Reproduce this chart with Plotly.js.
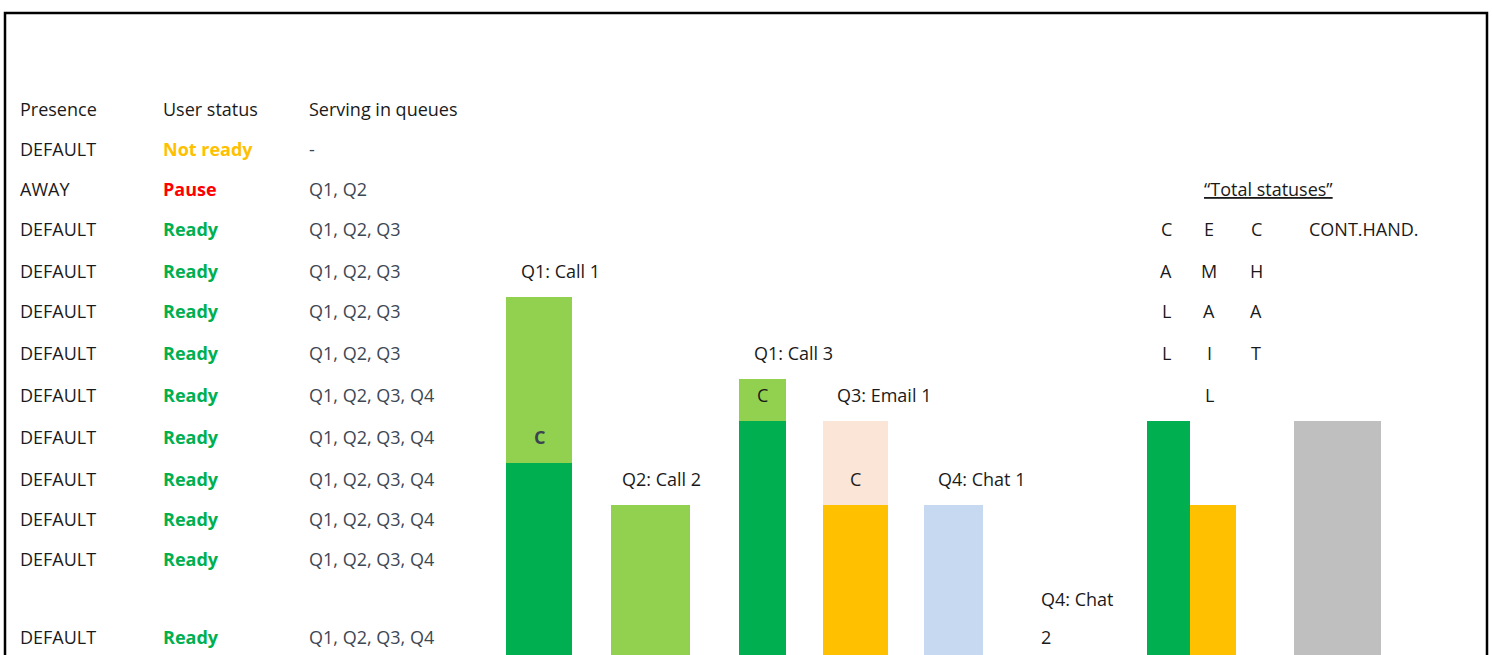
<!DOCTYPE html>
<html>
<head>
<meta charset="utf-8">
<script src="https://cdn.plot.ly/plotly-3.0.1.min.js"></script>
<style>html,body{margin:0;padding:0;background:#fff}#chart{width:1492px;height:655px}</style>
</head>
<body>
<div id="chart"></div>
<script>
// ---------- DATA ----------
const tableHeaders = ['Presence', 'User status', 'Serving in queues'];
const presence = ['DEFAULT', 'AWAY', 'DEFAULT', 'DEFAULT', 'DEFAULT', 'DEFAULT', 'DEFAULT', 'DEFAULT', 'DEFAULT', 'DEFAULT', 'DEFAULT', 'DEFAULT'];
const userStatus = ['Not ready', 'Pause', 'Ready', 'Ready', 'Ready', 'Ready', 'Ready', 'Ready', 'Ready', 'Ready', 'Ready', 'Ready'];
const servingQueues = ['-', 'Q1, Q2', 'Q1, Q2, Q3', 'Q1, Q2, Q3', 'Q1, Q2, Q3', 'Q1, Q2, Q3', 'Q1, Q2, Q3, Q4', 'Q1, Q2, Q3, Q4', 'Q1, Q2, Q3, Q4', 'Q1, Q2, Q3, Q4', 'Q1, Q2, Q3, Q4', 'Q1, Q2, Q3, Q4'];

const contactLabels = ['Q1: Call 1', 'Q2: Call 2', 'Q1: Call 3', 'Q3: Email 1', 'Q4: Chat 1'];
const contactLower = [192, 150, 234, 150, 150];
const contactUpper = [166, 0, 42, 84, 0];
const contactUpperMark = ['C', '', 'C', 'C', ''];
const extraLabel = 'Q4: Chat 2';

const totalsTitle = '“Total statuses”';
const totalsCategories = ['CALL', 'EMAIL', 'CHAT', 'CONT.HAND.'];
const totalsValues = [234, 150, 0, 234];

// ---------- LAYOUT / STYLE (positions in axis units) ----------
const H = 655;
const colX = [20, 163, 309];
const headerY = H - 109;
const rowY = [149, 189, 229, 271, 311, 353, 395, 437, 479, 519, 559, 637].map(v => H - v);
const statusColor = {'Not ready': '#FFC000', 'Pause': '#FF0000', 'Ready': '#00B050'};

const barX = [539, 650.5, 762.5, 855.5, 953.5];
const barW = [66, 79, 47, 65, 59];
const lowerColors = ['#00B050', '#92D050', '#00B050', '#FFC000', '#C6D9F0'];
const upperColors = ['#92D050', '#92D050', '#92D050', '#FBE5D6', '#C6D9F0'];
const labelPos = [[521, 271], [622, 479], [754, 353], [837, 395], [938, 479]];
const markPos = [[539, 437], null, [762, 395], [855, 479], null];
const markBold = [true, false, false, false, false];
const extraPos = [[1041, 599], [1041, 637]];

const totX = [1168.5, 1213, 1259, 1337.5];
const totW = [43, 46, 43, 87];
const totColors = ['#00B050', '#FFC000', '#C6D9F0', '#BFBFBF'];
const letterX = [1166, 1209, 1256];
const letterRowsPx = [229, 271, 311, 353, 395];
const contHandPos = [1309, 229];
const totalsTitlePos = [1268, 189];

const FONT = '"Open Sans", Lato, sans-serif';
const FS = 18;
const BLACK = '#1a1a1a';
const GREY = '#3e4754';

// ---------- TRACES ----------
const traces = [
  {type: 'bar', x: barX, y: contactLower, width: barW, base: 0,
   marker: {color: lowerColors, line: {width: 0}}, hoverinfo: 'skip'},
  {type: 'bar', x: barX, y: contactUpper, width: barW, base: contactLower,
   marker: {color: upperColors, line: {width: 0}}, hoverinfo: 'skip'},
  {type: 'bar', x: totX, y: totalsValues, width: totW, base: 0,
   marker: {color: totColors, line: {width: 0}}, hoverinfo: 'skip'}
];

// ---------- ANNOTATIONS ----------
const ann = [];
function txt(x, y, text, opts) {
  const o = Object.assign({x: x, y: y, xref: 'x', yref: 'y', text: text, showarrow: false,
    xanchor: 'left', yanchor: 'middle', borderpad: 0,
    font: {family: FONT, size: FS, color: BLACK}}, opts || {});
  if (o.xanchor === 'left') o.xshift = -1;
  ann.push(o);
}
tableHeaders.forEach((h, i) => txt(colX[i], headerY, h));
presence.forEach((p, i) => {
  txt(colX[0], rowY[i], p);
  txt(colX[1], rowY[i], '<b>' + userStatus[i] + '</b>', {font: {family: FONT, size: FS, color: statusColor[userStatus[i]]}});
  txt(colX[2], rowY[i], servingQueues[i], {font: {family: FONT, size: FS, color: GREY}});
});
contactLabels.forEach((l, i) => txt(labelPos[i][0], H - labelPos[i][1], l));
contactUpperMark.forEach((m, i) => {
  if (!m) return;
  txt(markPos[i][0], H - markPos[i][1], markBold[i] ? '<b>' + m + '</b>' : m,
    {xanchor: 'center', font: {family: FONT, size: FS, color: markBold[i] ? '#3b4350' : BLACK}});
});
const extraParts = extraLabel.split(' ');
txt(extraPos[0][0], H - extraPos[0][1], extraParts.slice(0, 2).join(' '));
txt(extraPos[1][0], H - extraPos[1][1], extraParts.slice(2).join(' '));

txt(totalsTitlePos[0], H - totalsTitlePos[1], '<u>' + totalsTitle + '</u>', {xanchor: 'center'});
totalsCategories.slice(0, 3).forEach((c, i) => {
  c.split('').forEach((ch, j) => txt(letterX[i], H - letterRowsPx[j], ch, {xanchor: 'center'}));
});
txt(contHandPos[0], H - contHandPos[1], totalsCategories[3]);

const layout = {
  width: 1492, height: 655,
  margin: {l: 0, r: 0, t: 0, b: 0},
  paper_bgcolor: '#ffffff', plot_bgcolor: '#ffffff',
  showlegend: false,
  barmode: 'overlay',
  xaxis: {range: [0, 1492], visible: false, fixedrange: true},
  yaxis: {range: [0, H], visible: false, fixedrange: true},
  annotations: ann,
  shapes: [{type: 'rect', xref: 'x', yref: 'y', x0: 5, x1: 1487, y0: -20, y1: H - 13,
            line: {color: '#000', width: 2.5}, fillcolor: 'rgba(0,0,0,0)', layer: 'above'}]
};

Plotly.newPlot('chart', traces, layout, {displayModeBar: false, staticPlot: true});
</script>
</body>
</html>
